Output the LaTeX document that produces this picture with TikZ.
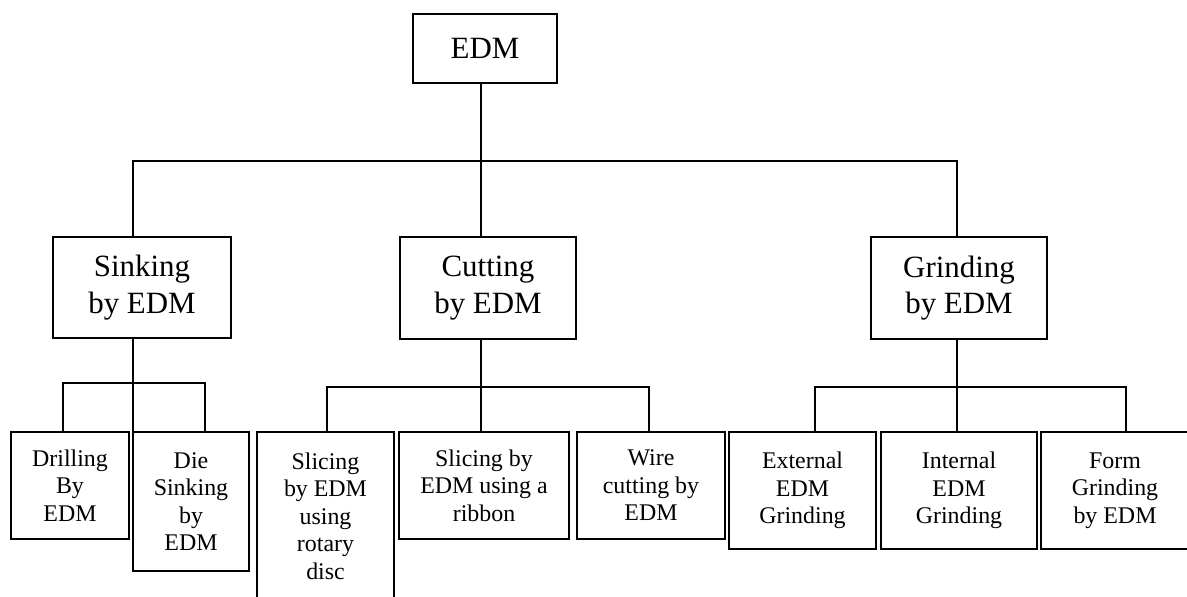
\documentclass[tikz,border=0pt]{standalone}
\usepackage{fontspec}
\setmainfont{Liberation Serif}

\begin{document}
\begin{tikzpicture}[line width=0.75pt,
  topbox/.style={draw,line width=0.9pt,inner sep=0pt,align=center,
    font=\fontsize{22}{26}\selectfont},
  leafbox/.style={draw,line width=0.9pt,inner sep=0pt,align=center,
    font=\fontsize{17}{19.5}\selectfont}]

\useasboundingbox (0,0) rectangle (29.675,-14.925);
\clip (0,0) rectangle (29.675,-14.925);

\node (edm) at (12.125,-1.2125) [topbox,minimum width=3.6cm,minimum height=1.725cm] {EDM};

\node (sink) at (3.55,-7.1875) [topbox,minimum width=4.45cm,minimum height=2.525cm] {Sinking\\by EDM};
\node (cut) at (12.2,-7.2) [topbox,minimum width=4.4cm,minimum height=2.55cm] {Cutting\\by EDM};
\node (grind) at (23.975,-7.2) [topbox,minimum width=4.4cm,minimum height=2.55cm] {Grinding\\by EDM};

\node (drill) at (1.75,-12.1375) [leafbox,minimum width=2.95cm,minimum height=2.675cm] {Drilling\\By\\EDM};
\node (die) at (4.775,-12.5375) [leafbox,minimum width=2.9cm,minimum height=3.475cm] {Die\\Sinking\\by\\EDM};

\node (rotary) at (8.1375,-12.9) [leafbox,minimum width=3.425cm,minimum height=4.2cm] {Slicing\\by EDM\\using\\rotary\\disc};
\node (ribbon) at (12.1,-12.1375) [leafbox,minimum width=4.25cm,minimum height=2.675cm] {Slicing by\\EDM using a\\ribbon};
\node (wire) at (16.275,-12.1375) [leafbox,minimum width=3.7cm,minimum height=2.675cm] {Wire\\cutting by\\EDM};

\node (ext) at (20.0625,-12.2625) [leafbox,minimum width=3.675cm,minimum height=2.925cm] {External\\EDM\\Grinding};
\node (int) at (23.975,-12.2625) [leafbox,minimum width=3.9cm,minimum height=2.925cm] {Internal\\EDM\\Grinding};
\node (form) at (27.875,-12.2625) [leafbox,minimum width=3.7cm,minimum height=2.925cm] {Form\\Grinding\\by EDM};

\coordinate (jS) at (3.325,-4.025);
\coordinate (jC) at (12.025,-4.025);
\coordinate (jG) at (23.925,-4.025);

\draw (edm.south -| jC) -- (cut.north -| jC);
\draw (sink.north -| jS) |- (jG) -- (grind.north -| jG);

\coordinate (kD) at (1.575,-9.575);
\coordinate (kM) at (3.325,-9.575);
\coordinate (kE) at (5.125,-9.575);

\draw (sink.south -| kM) -- (die.north -| kM);
\draw (drill.north -| kD) |- (kE) -- (die.north -| kE);

\coordinate (cR) at (8.175,-9.675);
\coordinate (cM) at (12.025,-9.675);
\coordinate (cW) at (16.225,-9.675);

\draw (cut.south -| cM) -- (ribbon.north -| cM);
\draw (rotary.north -| cR) |- (cW) -- (wire.north -| cW);

\coordinate (gE) at (20.375,-9.675);
\coordinate (gM) at (23.925,-9.675);
\coordinate (gF) at (28.15,-9.675);

\draw (grind.south -| gM) -- (int.north -| gM);
\draw (ext.north -| gE) |- (gF) -- (form.north -| gF);

\end{tikzpicture}
\end{document}
